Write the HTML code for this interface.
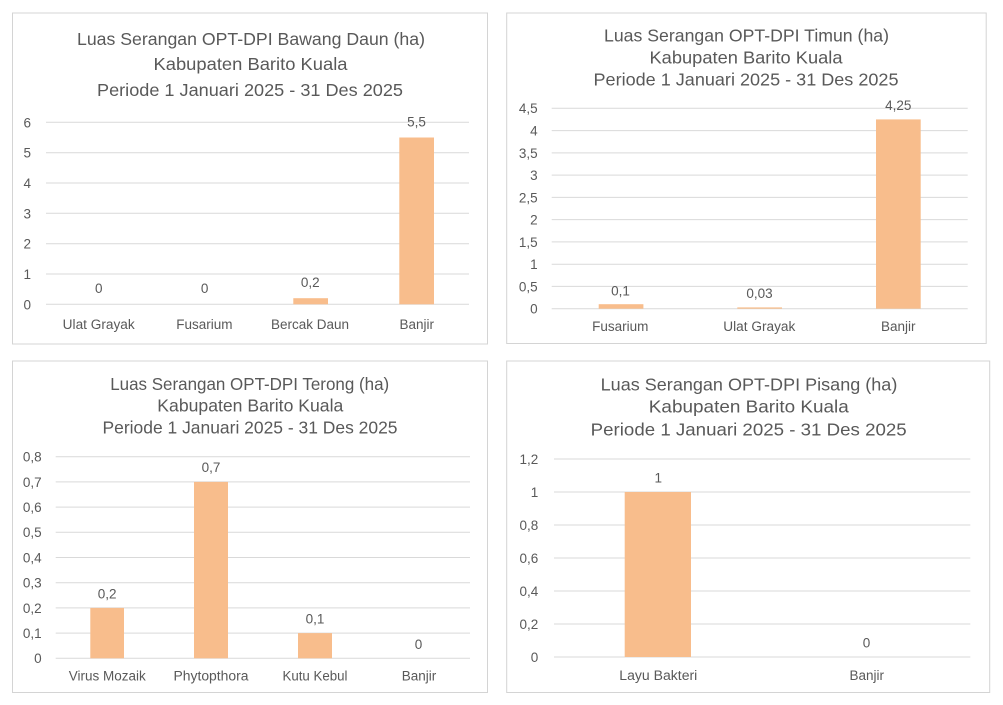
<!DOCTYPE html>
<html>
<head>
<meta charset="utf-8">
<style>
html,body{margin:0;padding:0;background:#fff;}
svg{display:block;}
text{font-family:"Liberation Sans",Arial,sans-serif;fill:#595959;}
.t{font-size:17.5px;}
.k{font-size:13.5px;}
.c{font-size:13.5px;}
.d{font-size:13.5px;}
</style>
</head>
<body>
<svg width="1003" height="705" viewBox="0 0 1003 705" xmlns="http://www.w3.org/2000/svg">
<rect width="1003" height="705" fill="#fff"/>

<!-- Chart 1 -->
<rect x="12.5" y="13" width="475" height="331" fill="#fff" stroke="#D4D4D4" stroke-width="1"/>
<text class="t" x="251" y="45" text-anchor="middle" textLength="348" lengthAdjust="spacingAndGlyphs">Luas Serangan OPT-DPI Bawang Daun (ha)</text>
<text class="t" x="250.5" y="70" text-anchor="middle" textLength="194" lengthAdjust="spacingAndGlyphs">Kabupaten Barito Kuala</text>
<text class="t" x="250" y="96" text-anchor="middle" textLength="306" lengthAdjust="spacingAndGlyphs">Periode 1 Januari 2025 - 31 Des 2025</text>
<g stroke="#D9D9D9" stroke-width="1">
<line x1="46" x2="469" y1="122.3" y2="122.3"/>
<line x1="46" x2="469" y1="152.7" y2="152.7"/>
<line x1="46" x2="469" y1="183" y2="183"/>
<line x1="46" x2="469" y1="213.3" y2="213.3"/>
<line x1="46" x2="469" y1="243.7" y2="243.7"/>
<line x1="46" x2="469" y1="274" y2="274"/>
<line x1="46" x2="469" y1="304.3" y2="304.3"/>
</g>
<text class="k" x="31" y="127.3" text-anchor="end">6</text>
<text class="k" x="31" y="157.6" text-anchor="end">5</text>
<text class="k" x="31" y="187.9" text-anchor="end">4</text>
<text class="k" x="31" y="218.3" text-anchor="end">3</text>
<text class="k" x="31" y="248.6" text-anchor="end">2</text>
<text class="k" x="31" y="278.9" text-anchor="end">1</text>
<text class="k" x="31" y="309.3" text-anchor="end">0</text>
<rect x="293.3" y="298.2" width="34.7" height="6.1" fill="#F8BD8C"/>
<rect x="399.3" y="137.5" width="34.7" height="166.8" fill="#F8BD8C"/>
<text class="d" x="98.8" y="293" text-anchor="middle">0</text>
<text class="d" x="204.6" y="293" text-anchor="middle">0</text>
<text class="d" x="310.3" y="287" text-anchor="middle">0,2</text>
<text class="d" x="416.5" y="126.5" text-anchor="middle">5,5</text>
<text class="c" x="98.7" y="329" text-anchor="middle" textLength="72" lengthAdjust="spacingAndGlyphs">Ulat Grayak</text>
<text class="c" x="204.4" y="329" text-anchor="middle">Fusarium</text>
<text class="c" x="310" y="329" text-anchor="middle" textLength="78" lengthAdjust="spacingAndGlyphs">Bercak Daun</text>
<text class="c" x="416.7" y="329" text-anchor="middle">Banjir</text>

<!-- Chart 2 -->
<rect x="506.7" y="13" width="479.5" height="330.5" fill="#fff" stroke="#D4D4D4" stroke-width="1"/>
<text class="t" x="746.5" y="41.5" text-anchor="middle" textLength="285" lengthAdjust="spacingAndGlyphs">Luas Serangan OPT-DPI Timun (ha)</text>
<text class="t" x="746" y="63.5" text-anchor="middle" textLength="193" lengthAdjust="spacingAndGlyphs">Kabupaten Barito Kuala</text>
<text class="t" x="746" y="85.5" text-anchor="middle" textLength="305" lengthAdjust="spacingAndGlyphs">Periode 1 Januari 2025 - 31 Des 2025</text>
<g stroke="#D9D9D9" stroke-width="1">
<line x1="551.7" x2="967.7" y1="108.3" y2="108.3"/>
<line x1="551.7" x2="967.7" y1="130.6" y2="130.6"/>
<line x1="551.7" x2="967.7" y1="152.9" y2="152.9"/>
<line x1="551.7" x2="967.7" y1="175.1" y2="175.1"/>
<line x1="551.7" x2="967.7" y1="197.4" y2="197.4"/>
<line x1="551.7" x2="967.7" y1="219.6" y2="219.6"/>
<line x1="551.7" x2="967.7" y1="241.9" y2="241.9"/>
<line x1="551.7" x2="967.7" y1="264.2" y2="264.2"/>
<line x1="551.7" x2="967.7" y1="286.4" y2="286.4"/>
<line x1="551.7" x2="967.7" y1="308.7" y2="308.7"/>
</g>
<text class="k" x="537.7" y="113.2" text-anchor="end">4,5</text>
<text class="k" x="537.7" y="135.5" text-anchor="end">4</text>
<text class="k" x="537.7" y="157.8" text-anchor="end">3,5</text>
<text class="k" x="537.7" y="180" text-anchor="end">3</text>
<text class="k" x="537.7" y="202.3" text-anchor="end">2,5</text>
<text class="k" x="537.7" y="224.5" text-anchor="end">2</text>
<text class="k" x="537.7" y="246.8" text-anchor="end">1,5</text>
<text class="k" x="537.7" y="269.1" text-anchor="end">1</text>
<text class="k" x="537.7" y="291.3" text-anchor="end">0,5</text>
<text class="k" x="537.7" y="313.6" text-anchor="end">0</text>
<rect x="598.7" y="304.2" width="44.7" height="4.5" fill="#F8BD8C"/>
<rect x="737.3" y="307.4" width="44.7" height="1.3" fill="#F8BD8C"/>
<rect x="876" y="119.4" width="44.7" height="189.3" fill="#F8BD8C"/>
<text class="d" x="620.5" y="295.4" text-anchor="middle">0,1</text>
<text class="d" x="759.5" y="298" text-anchor="middle">0,03</text>
<text class="d" x="898.3" y="110" text-anchor="middle">4,25</text>
<text class="c" x="620.3" y="331" text-anchor="middle">Fusarium</text>
<text class="c" x="759.3" y="331" text-anchor="middle" textLength="72" lengthAdjust="spacingAndGlyphs">Ulat Grayak</text>
<text class="c" x="898.3" y="331" text-anchor="middle">Banjir</text>

<!-- Chart 3 -->
<rect x="12.5" y="361" width="475" height="331.5" fill="#fff" stroke="#D4D4D4" stroke-width="1"/>
<text class="t" x="249.7" y="390" text-anchor="middle" textLength="279" lengthAdjust="spacingAndGlyphs">Luas Serangan OPT-DPI Terong (ha)</text>
<text class="t" x="250.3" y="411.7" text-anchor="middle" textLength="186" lengthAdjust="spacingAndGlyphs">Kabupaten Barito Kuala</text>
<text class="t" x="250" y="433.3" text-anchor="middle" textLength="295" lengthAdjust="spacingAndGlyphs">Periode 1 Januari 2025 - 31 Des 2025</text>
<g stroke="#D9D9D9" stroke-width="1">
<line x1="55.7" x2="470" y1="456.7" y2="456.7"/>
<line x1="55.7" x2="470" y1="481.9" y2="481.9"/>
<line x1="55.7" x2="470" y1="507.1" y2="507.1"/>
<line x1="55.7" x2="470" y1="532.3" y2="532.3"/>
<line x1="55.7" x2="470" y1="557.5" y2="557.5"/>
<line x1="55.7" x2="470" y1="582.7" y2="582.7"/>
<line x1="55.7" x2="470" y1="607.9" y2="607.9"/>
<line x1="55.7" x2="470" y1="633.1" y2="633.1"/>
<line x1="55.7" x2="470" y1="658.3" y2="658.3"/>
</g>
<text class="k" x="41.7" y="461.6" text-anchor="end">0,8</text>
<text class="k" x="41.7" y="486.8" text-anchor="end">0,7</text>
<text class="k" x="41.7" y="512" text-anchor="end">0,6</text>
<text class="k" x="41.7" y="537.2" text-anchor="end">0,5</text>
<text class="k" x="41.7" y="562.4" text-anchor="end">0,4</text>
<text class="k" x="41.7" y="587.6" text-anchor="end">0,3</text>
<text class="k" x="41.7" y="612.8" text-anchor="end">0,2</text>
<text class="k" x="41.7" y="638" text-anchor="end">0,1</text>
<text class="k" x="41.7" y="663.2" text-anchor="end">0</text>
<rect x="90.3" y="607.9" width="33.7" height="50.4" fill="#F8BD8C"/>
<rect x="194" y="481.9" width="34" height="176.4" fill="#F8BD8C"/>
<rect x="298" y="633.1" width="34" height="25.2" fill="#F8BD8C"/>
<text class="d" x="107.2" y="598.7" text-anchor="middle">0,2</text>
<text class="d" x="211" y="472" text-anchor="middle">0,7</text>
<text class="d" x="315" y="623.7" text-anchor="middle">0,1</text>
<text class="d" x="418.5" y="649" text-anchor="middle">0</text>
<text class="c" x="107.3" y="680.5" text-anchor="middle" textLength="77" lengthAdjust="spacingAndGlyphs">Virus Mozaik</text>
<text class="c" x="211" y="680.5" text-anchor="middle" textLength="75" lengthAdjust="spacingAndGlyphs">Phytopthora</text>
<text class="c" x="315" y="680.5" text-anchor="middle" textLength="65" lengthAdjust="spacingAndGlyphs">Kutu Kebul</text>
<text class="c" x="419" y="680.5" text-anchor="middle">Banjir</text>

<!-- Chart 4 -->
<rect x="506.7" y="361" width="483" height="331.5" fill="#fff" stroke="#D4D4D4" stroke-width="1"/>
<text class="t" x="749" y="390.7" text-anchor="middle" textLength="296.7" lengthAdjust="spacingAndGlyphs">Luas Serangan OPT-DPI Pisang (ha)</text>
<text class="t" x="748.8" y="412.7" text-anchor="middle" textLength="200" lengthAdjust="spacingAndGlyphs">Kabupaten Barito Kuala</text>
<text class="t" x="748.7" y="435.3" text-anchor="middle" textLength="316" lengthAdjust="spacingAndGlyphs">Periode 1 Januari 2025 - 31 Des 2025</text>
<g stroke="#D9D9D9" stroke-width="1">
<line x1="554" x2="970.3" y1="459" y2="459"/>
<line x1="554" x2="970.3" y1="492" y2="492"/>
<line x1="554" x2="970.3" y1="525" y2="525"/>
<line x1="554" x2="970.3" y1="558" y2="558"/>
<line x1="554" x2="970.3" y1="591" y2="591"/>
<line x1="554" x2="970.3" y1="624" y2="624"/>
<line x1="554" x2="970.3" y1="657" y2="657"/>
</g>
<text class="k" x="538.3" y="463.9" text-anchor="end">1,2</text>
<text class="k" x="538.3" y="496.9" text-anchor="end">1</text>
<text class="k" x="538.3" y="529.9" text-anchor="end">0,8</text>
<text class="k" x="538.3" y="562.9" text-anchor="end">0,6</text>
<text class="k" x="538.3" y="595.9" text-anchor="end">0,4</text>
<text class="k" x="538.3" y="628.9" text-anchor="end">0,2</text>
<text class="k" x="538.3" y="661.9" text-anchor="end">0</text>
<rect x="624.7" y="492" width="66.3" height="165" fill="#F8BD8C"/>
<text class="d" x="658.3" y="482.4" text-anchor="middle">1</text>
<text class="d" x="866.5" y="647.7" text-anchor="middle">0</text>
<text class="c" x="658.3" y="680" text-anchor="middle" textLength="78" lengthAdjust="spacingAndGlyphs">Layu Bakteri</text>
<text class="c" x="866.7" y="680" text-anchor="middle">Banjir</text>
</svg>
</body>
</html>
